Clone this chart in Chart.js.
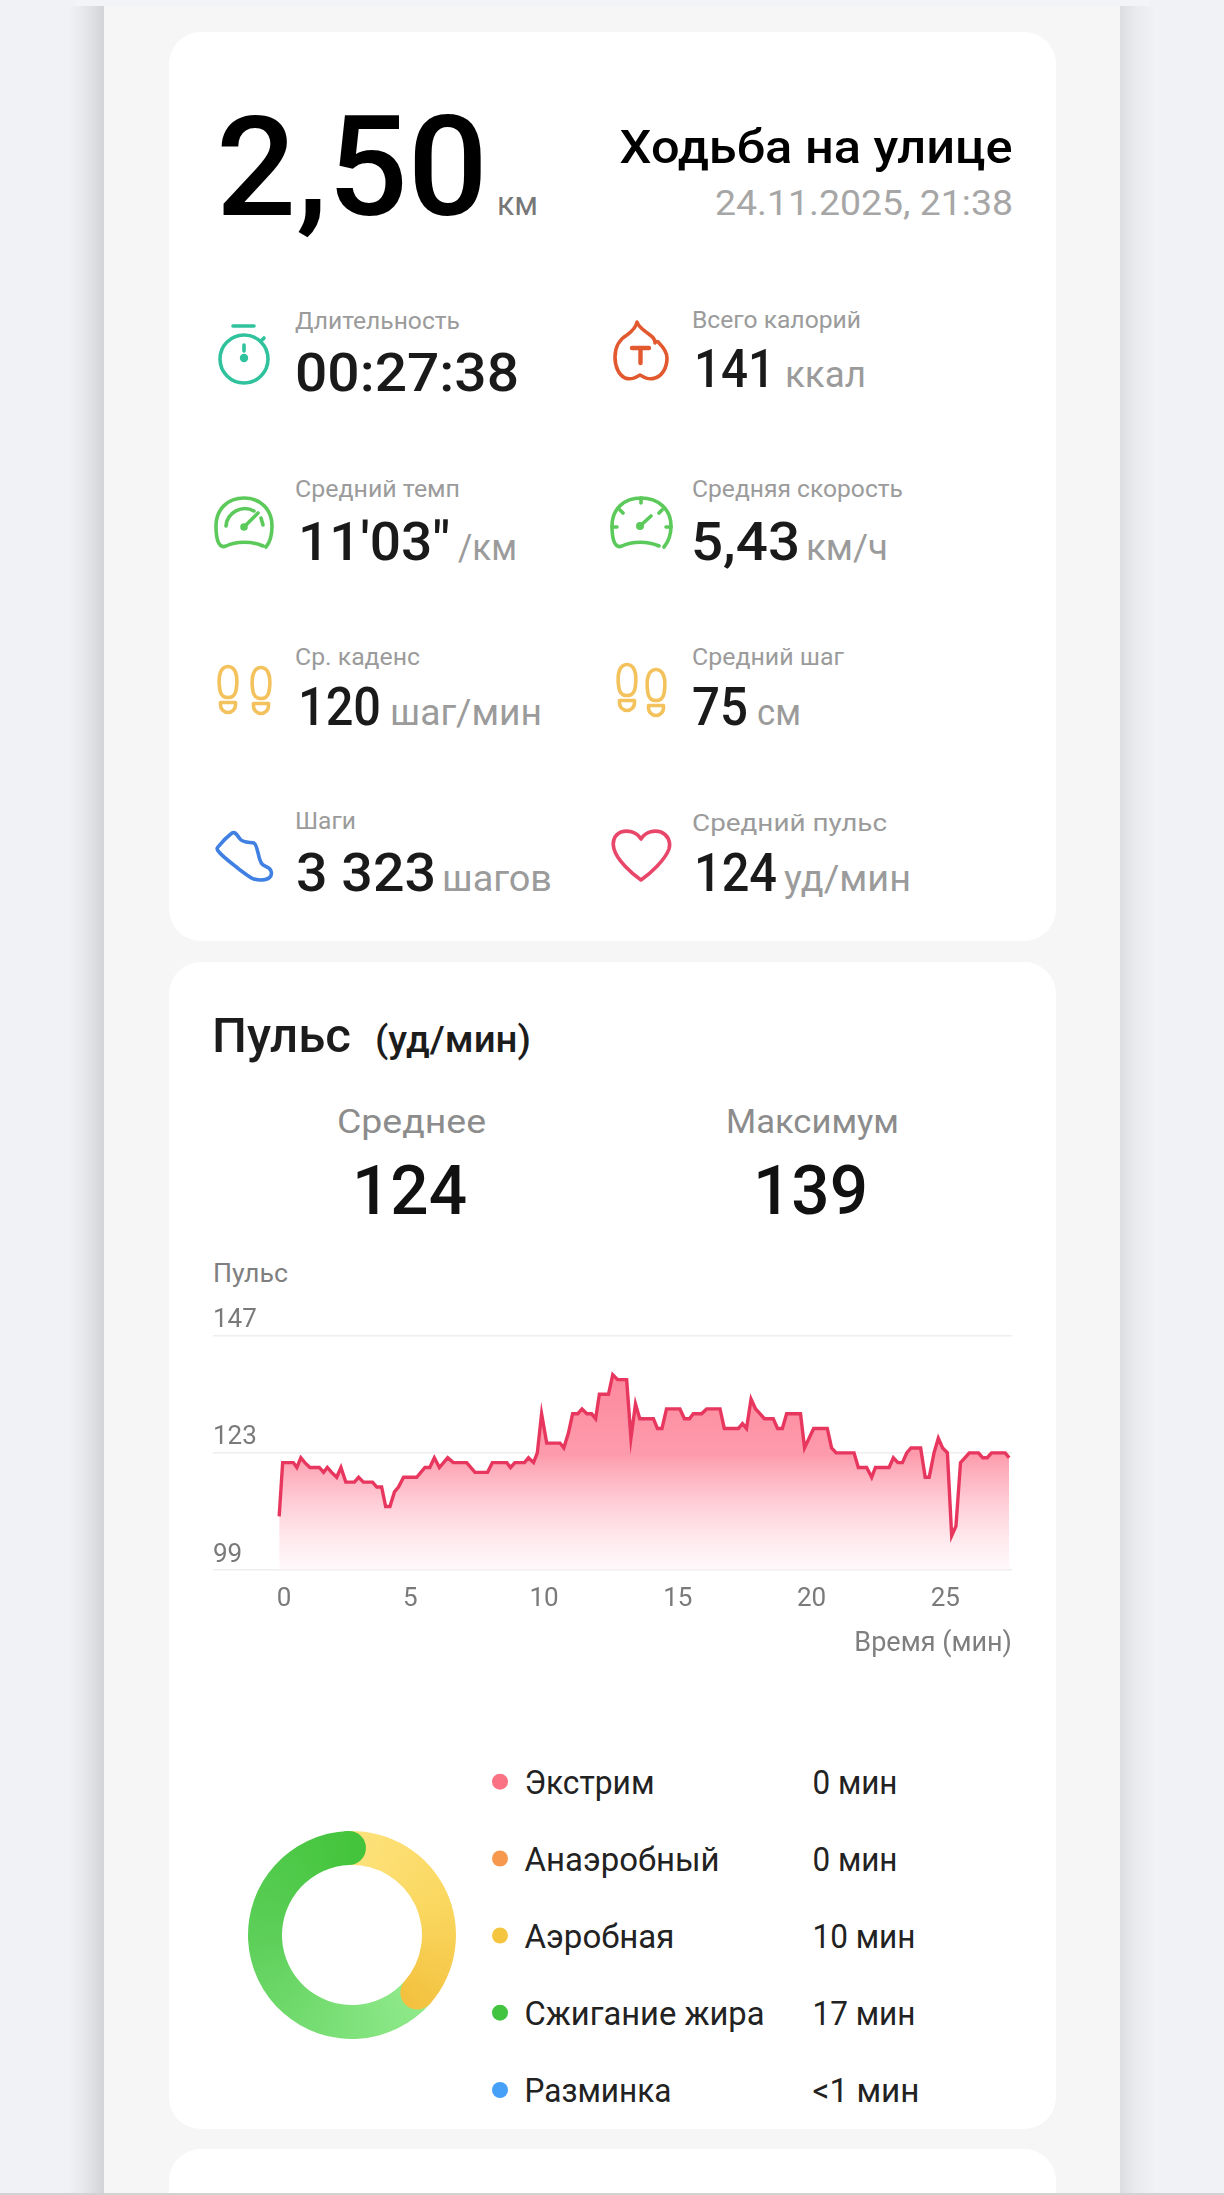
<!DOCTYPE html>
<html lang="ru">
<head>
<meta charset="utf-8">
<title>Ходьба на улице</title>
<script src="https://cdn.jsdelivr.net/npm/chart.js@4"></script>
<style>
html,body{margin:0;padding:0;background:#f1f2f5;}
#page{position:relative;width:1224px;height:2195px;overflow:hidden;background:#f1f2f5;font-family:Roboto,sans-serif;}
.abs{position:absolute;}
#topstrip{left:75px;top:0;width:1075px;height:6px;background:#f3f4f7;}
#shadowL{left:68px;top:6px;width:36px;height:2189px;background:linear-gradient(to right,rgba(205,206,210,0),rgba(205,206,210,.25) 40%,#d3d4d7);}
#shadowR{left:1120px;top:6px;width:36px;height:2189px;background:linear-gradient(to left,rgba(205,206,210,0),rgba(205,206,210,.2) 55%,#dcdde0);}
#panel{left:104px;top:6px;width:1016px;height:2189px;background:#f6f6f7;}
.card{background:#fff;left:169px;width:887px;border-radius:32px;}
#c1{top:32px;height:909px;}
#c2{top:962px;height:1167px;}
#c3{top:2149px;height:80px;}
#strip{left:0;top:2193px;width:1224px;height:2px;background:#d2d2d2;}
svg{position:absolute;left:0;top:0;}
text{font-family:Roboto,sans-serif;}
.lab{font-size:24px;fill:#9b9b9b;}
.val{font-size:54px;fill:#1a1a1a;font-weight:500;}
.uni{font-size:36px;fill:#9b9b9b;}
.ic{fill:none;stroke-width:3.6;stroke-linecap:round;stroke-linejoin:round;}
#line{left:213px;top:1270px;width:799px;height:390px;}
#ring{left:231.5px;top:1815px;width:240px;height:240px;}
</style>
</head>
<body>
<div id="page">
  <div class="abs" id="topstrip"></div>
  <div class="abs" id="shadowL"></div>
  <div class="abs" id="shadowR"></div>
  <div class="abs" id="panel"></div>
  <div class="abs card" id="c1"></div>
  <div class="abs card" id="c2"></div>
  <div class="abs card" id="c3"></div>
  <div class="abs" id="strip"></div>

  <svg width="1224" height="2195" viewBox="0 0 1224 2195" xmlns="http://www.w3.org/2000/svg">
    <defs>
      <g id="foot" class="ic">
        <path d="M1.5 22 C0 10 3 1.5 10 1.5 C17 1.5 20 10 18.5 22 C18 28 16.5 32.5 10 32.5 C3.5 32.5 2 28 1.5 22 Z"/>
        <path d="M2.5 37.5 H17.5 V40 A7.5 7.5 0 0 1 2.5 40 Z"/>
      </g>
    </defs>
    <!-- header -->
    <text x="216" y="215" font-size="140" font-weight="500" fill="#000" textLength="272" lengthAdjust="spacingAndGlyphs">2,50</text>
    <text x="497" y="215" font-size="33" fill="#777" textLength="41" lengthAdjust="spacingAndGlyphs">км</text>
    <text x="619.5" y="163" font-size="47" font-weight="500" fill="#000" textLength="393" lengthAdjust="spacingAndGlyphs">Ходьба на улице</text>
    <text x="715" y="215" font-size="35" fill="#a6a6a6" textLength="298" lengthAdjust="spacingAndGlyphs">24.11.2025, 21:38</text>

    <!-- metrics left -->
    <text class="lab" x="295" y="329" textLength="165" lengthAdjust="spacingAndGlyphs">Длительность</text>
    <text class="val" x="295" y="391" textLength="224" lengthAdjust="spacingAndGlyphs">00:27:38</text>
    <text class="lab" x="295" y="497" textLength="165" lengthAdjust="spacingAndGlyphs">Средний темп</text>
    <text class="val" x="298" y="560" textLength="152" lengthAdjust="spacingAndGlyphs">11'03"</text>
    <text class="uni" x="458" y="560" textLength="59" lengthAdjust="spacingAndGlyphs">/км</text>
    <text class="lab" x="295" y="665" textLength="125" lengthAdjust="spacingAndGlyphs">Ср. каденс</text>
    <text class="val" x="298" y="725" textLength="83" lengthAdjust="spacingAndGlyphs">120</text>
    <text class="uni" x="390" y="725" textLength="152" lengthAdjust="spacingAndGlyphs">шаг/мин</text>
    <text class="lab" x="295" y="829" textLength="61" lengthAdjust="spacingAndGlyphs">Шаги</text>
    <text class="val" x="296" y="891" textLength="140" lengthAdjust="spacingAndGlyphs">3 323</text>
    <text class="uni" x="442" y="891" textLength="110" lengthAdjust="spacingAndGlyphs">шагов</text>

    <!-- metrics right -->
    <text class="lab" x="692" y="328" textLength="169" lengthAdjust="spacingAndGlyphs">Всего калорий</text>
    <text class="val" x="694" y="387" textLength="81" lengthAdjust="spacingAndGlyphs">141</text>
    <text class="uni" x="785" y="387" textLength="81" lengthAdjust="spacingAndGlyphs">ккал</text>
    <text class="lab" x="692" y="497" textLength="211" lengthAdjust="spacingAndGlyphs">Средняя скорость</text>
    <text class="val" x="691" y="560" textLength="109" lengthAdjust="spacingAndGlyphs">5,43</text>
    <text class="uni" x="806" y="560" textLength="82" lengthAdjust="spacingAndGlyphs">км/ч</text>
    <text class="lab" x="692" y="665" textLength="152" lengthAdjust="spacingAndGlyphs">Средний шаг</text>
    <text class="val" x="692" y="725" textLength="56" lengthAdjust="spacingAndGlyphs">75</text>
    <text class="uni" x="757" y="725" textLength="44" lengthAdjust="spacingAndGlyphs">см</text>
    <text class="lab" x="692" y="831" textLength="195" lengthAdjust="spacingAndGlyphs">Средний пульс</text>
    <text class="val" x="694" y="891" textLength="83" lengthAdjust="spacingAndGlyphs">124</text>
    <text class="uni" x="784" y="891" textLength="127" lengthAdjust="spacingAndGlyphs">уд/мин</text>

    <!-- icons -->
    <g class="ic" stroke="#30c29c">
      <circle cx="244" cy="359" r="24"/>
      <path d="M233 326 H254"/>
      <path d="M261 341 L264 338"/>
      <path d="M244 345 V351"/>
      <circle cx="244" cy="358" r="2.4" fill="#30c29c"/>
    </g>
    <g class="ic" stroke="#e2582f">
      <path d="M637 322 C639 328 645 331 650 335 C653 337 655 340 655 343 C656 341 658 341 659 343 C664 348 667 352 667 358 C667 368 662 376 655 378 C649 380 645 378 640 375 C635 378 631 380 625 378 C619 375 615 367 615 357 C615 347 620 339 627 335 C631 332 636 328 637 322 Z"/>
      <path d="M632 348 H649 M640.5 348 V363" stroke-width="4.4"/>
    </g>
    <g class="ic" stroke="#5cc95b">
      <path d="M263 546 C252 541 236 541 226 546 C219 549 216 540 216 526 C216 509 228 498 244 498 C260 498 272 509 272 526 C272 534 271 541 266 547"/>
      <path d="M226 526 A19 19 0 0 1 254 511"/>
      <path d="M244 527 L258 513"/>
      <path d="M261 518 L263 525"/>
      <circle cx="244" cy="527" r="2" fill="#5cc95b"/>
    </g>
    <g class="ic" stroke="#5cc95b">
      <path d="M659 546 C648 541 632 541 622 546 C615 549 612 540 612 526 C612 509 624 498 641 498 C658 498 671 509 671 526 C671 534 669 541 664 547"/>
      <path d="M640 526 L651 516"/>
      <path d="M641 498 V503 M620 510 L623 513 M662 510 L659 513 M612 527 H617 M671 527 H666"/>
      <circle cx="640" cy="526" r="2.2" fill="#5cc95b"/>
    </g>
    <g stroke="#f4c25c">
      <use href="#foot" x="218" y="665"/>
      <use href="#foot" x="251" y="666"/>
      <use href="#foot" x="617" y="663"/>
      <use href="#foot" x="646" y="668"/>
    </g>
    <g class="ic" stroke="#3f80e2">
      <path d="M218 847 C222 842 228 836 232 833 C235 831 237 835 240 839 C243 843 250 842 254 843 C258 845 258 860 262 864 C265 867 270 867 271 871 C273 877 268 880 260 880 C252 880 247 875 240 870 C233 864 224 858 219 852 C217 850 217 848 218 847 Z"/>
    </g>
    <g class="ic" stroke="#e8476a">
      <path d="M641 839 C636 831 627 830 621 832 C614 835 612 842 614 849 C617 860 631 873 641 880 C651 873 665 860 669 849 C671 842 668 835 661 832 C655 830 646 831 641 839 Z"/>
    </g>

    <!-- pulse section -->
    <text x="212" y="1052" font-size="49" font-weight="500" fill="#1c1c1c" textLength="139" lengthAdjust="spacingAndGlyphs">Пульс</text>
    <text x="375" y="1052" font-size="36" font-weight="500" fill="#1c1c1c" textLength="156" lengthAdjust="spacingAndGlyphs">(уд/мин)</text>
    <text x="337" y="1133" font-size="34" fill="#8c8c8c" textLength="149" lengthAdjust="spacingAndGlyphs">Среднее</text>
    <text x="726" y="1133" font-size="34" fill="#8c8c8c" textLength="173" lengthAdjust="spacingAndGlyphs">Максимум</text>
    <text x="352" y="1214" font-size="68" font-weight="500" fill="#111" textLength="115" lengthAdjust="spacingAndGlyphs">124</text>
    <text x="753" y="1214" font-size="68" font-weight="500" fill="#111" textLength="115" lengthAdjust="spacingAndGlyphs">139</text>
    <text x="213" y="1282" font-size="25" fill="#7f7f7f" textLength="75" lengthAdjust="spacingAndGlyphs">Пульс</text>
    <g id="legend"></g>
  </svg>

  <canvas class="abs" id="line" width="799" height="390"></canvas>
  <canvas class="abs" id="ring" width="240" height="240"></canvas>
</div>

<script>
// Heart-rate trace
const minutes = [0.10,0.23,0.63,0.76,0.91,1.06,1.25,1.60,1.76,1.90,2.06,2.25,2.41,2.59,2.91,3.07,3.25,3.59,3.75,3.93,4.08,4.24,4.41,4.56,4.75,5.24,5.55,5.73,5.90,6.09,6.40,6.61,7.11,7.42,7.89,8.07,8.61,8.75,8.91,9.27,9.42,9.61,9.75,9.91,10.10,10.60,10.74,10.91,11.07,11.26,11.42,11.60,11.78,11.93,12.07,12.41,12.57,12.75,13.09,13.25,13.42,13.58,14.09,14.24,14.41,14.58,15.08,15.25,15.44,15.58,15.89,16.08,16.58,16.74,17.27,17.42,17.57,17.74,17.91,18.08,18.24,18.57,18.73,18.91,19.07,19.59,19.74,20.08,20.59,20.75,20.92,21.59,21.75,22.06,22.25,22.39,22.90,23.06,23.23,23.40,23.56,23.72,24.08,24.25,24.40,24.58,24.74,24.90,25.08,25.24,25.40,25.57,25.74,25.90,26.24,26.40,26.57,26.73,27.24,27.39];
const bpm = [110,121,121,120,122,121,120,120,119,120,119,118,120,117,117,118,117,117,116,116,112,112,115,116,118,118,120,120,122,120,122,121,121,119,119,121,121,120,121,121,122,121,123,131,125,125,124,127,131,131,132,131,131,130,135,135,139,138,138,126,133,130,130,128,128,132,132,130,130,131,131,132,132,128,128,129,128,134,132,131,130,130,128,128,131,131,124,128,128,124,123,123,120,120,118,120,120,122,121,121,123,124,124,118,118,123,126,124,123,106,108,121,122,123,123,122,122,123,123,122];
const yTicks = [99,123,147];
const xTicks = [0.28,5,10,15,20,25];   // the "0" label sits a little right of the trace origin in the picture
const xTickLabels = ['0','5','10','15','20','25'];

// Heart-rate zones
const zoneNames = ['Экстрим','Анаэробный','Аэробная','Сжигание жира','Разминка'];
const zoneTexts = ['0 мин','0 мин','10 мин','17 мин','<1 мин'];
const zoneMinutes = [0,0,10,17,0];
const zoneDots = ['#fb7285','#f6984e','#f4c63f','#43c441','#47a0f8'];

// Legend as real text
const SVGNS = 'http://www.w3.org/2000/svg';
const legend = document.getElementById('legend');
const legendY = [1781.7,1858.5,1935.5,2012.7,2090];
const legendW = [130,195,150,240,147];
const valueW = [85,85,103,103,107];
zoneNames.forEach((name,i)=>{
  const dot = document.createElementNS(SVGNS,'circle');
  dot.setAttribute('cx',500);dot.setAttribute('cy',legendY[i]);dot.setAttribute('r',8);dot.setAttribute('fill',zoneDots[i]);
  legend.appendChild(dot);
  const t = document.createElementNS(SVGNS,'text');
  t.setAttribute('x',524.5);t.setAttribute('y',legendY[i]+12.3);t.setAttribute('font-size',33);t.setAttribute('fill','#222');
  t.setAttribute('textLength',legendW[i]);t.setAttribute('lengthAdjust','spacingAndGlyphs');
  t.textContent = name;legend.appendChild(t);
  const v = document.createElementNS(SVGNS,'text');
  v.setAttribute('x',812.5);v.setAttribute('y',legendY[i]+12.3);v.setAttribute('font-size',33);v.setAttribute('fill','#222');
  v.setAttribute('textLength',valueW[i]);v.setAttribute('lengthAdjust','spacingAndGlyphs');
  v.textContent = zoneTexts[i];legend.appendChild(v);
});

Chart.defaults.font.family = 'Roboto, sans-serif';
Chart.defaults.animation = false;
Chart.defaults.responsive = false;

new Chart(document.getElementById('line'),{
  type:'line',
  data:{
    datasets:[{
      data:minutes.map((m,i)=>({x:m,y:bpm[i]})),
      borderColor:'#e8375f',
      borderWidth:3.4,
      pointRadius:0,
      tension:0,
      fill:'start',
      backgroundColor(ctx){
        const {chart}=ctx, a=chart.chartArea;
        if(!a) return '#fd9aab';
        const s=chart.scales.y;
        const g=chart.ctx.createLinearGradient(0,s.getPixelForValue(139),0,a.bottom-4);
        g.addColorStop(0,'rgba(252,130,152,.95)');
        g.addColorStop(0.42,'rgba(253,150,168,.95)');
        g.addColorStop(1,'rgba(255,240,244,.5)');
        return g;
      }
    }]
  },
  options:{
    layout:{padding:{top:65.7,left:0,right:0,bottom:0}},
    plugins:{legend:{display:false},tooltip:{enabled:false}},
    scales:{
      x:{
        type:'linear',min:-2.374,max:27.495,
        afterBuildTicks(s){s.ticks=xTicks.map(v=>({value:v}));},
        afterFit(s){s.height=90;},
        border:{display:false},
        grid:{display:false},
        ticks:{autoSkip:false,maxRotation:0,color:'#7a7a7a',font:{size:26},padding:6,callback:(v,i)=>xTickLabels[i]},
        title:{display:true,text:'Время (мин)',align:'end',color:'#7f7f7f',font:{size:27},padding:{top:4,bottom:0}}
      },
      y:{
        min:99,max:147,
        afterBuildTicks(s){s.ticks=yTicks.map(v=>({value:v}));},
        afterFit(s){s.width=0;},
        border:{display:false},
        grid:{color:'#eeeeee',lineWidth:1.5,drawTicks:false},
        ticks:{mirror:true,padding:0,labelOffset:-15,color:'#7a7a7a',font:{size:26},callback:v=>String(v)}
      }
    }
  }
});

// Round end caps of the ring, placed from the library's own arc elements
const ringCaps = {
  id:'ringCaps',
  afterDatasetsDraw(chart){
    const meta=chart.getDatasetMeta(0), c=chart.ctx;
    meta.data.forEach(el=>{
      const p=el.getProps(['x','y','startAngle','endAngle','innerRadius','outerRadius']);
      if(p.endAngle-p.startAngle<=0) return;
      const r=(p.innerRadius+p.outerRadius)/2, w=(p.outerRadius-p.innerRadius)/2;
      c.save();
      c.fillStyle=el.options.backgroundColor;
      c.beginPath();
      c.arc(p.x+r*Math.cos(p.endAngle),p.y+r*Math.sin(p.endAngle),w,0,Math.PI*2);
      c.fill();
      c.restore();
    });
  }
};
function ringFill(stops,fallback){
  return ctx=>{
    const a=ctx.chart.chartArea;
    if(!a) return fallback;
    const g=ctx.chart.ctx.createConicGradient(-Math.PI/2,(a.left+a.right)/2,(a.top+a.bottom)/2);
    stops.forEach(s=>g.addColorStop(s[0],s[1]));
    return g;
  };
}
const yellowStops=[[0,'#fde27c'],[0.2,'#fad75f'],[0.39,'#f3c13f'],[0.45,'#f3c13f'],[1,'#fde27c']];
const greenStops=[[0,'#44c43c'],[0.05,'#44c43c'],[0.37,'#90ea8b'],[0.55,'#78de74'],[0.75,'#5ccf58'],[1,'#44c43c']];
new Chart(document.getElementById('ring'),{
  type:'doughnut',
  data:{
    labels:zoneNames,
    datasets:[{
      data:zoneMinutes,
      borderWidth:0,
      backgroundColor(ctx){
        const i=ctx.dataIndex;
        if(i===2) return ringFill(yellowStops,'#f4c63f')(ctx);
        if(i===3) return ringFill(greenStops,'#43c441')(ctx);
        return zoneDots[i];
      }
    }]
  },
  options:{
    layout:{padding:16},
    cutout:'67.3%',
    rotation:-2,
    plugins:{legend:{display:false},tooltip:{enabled:false}}
  },
  plugins:[ringCaps]
});
</script>
</body>
</html>
